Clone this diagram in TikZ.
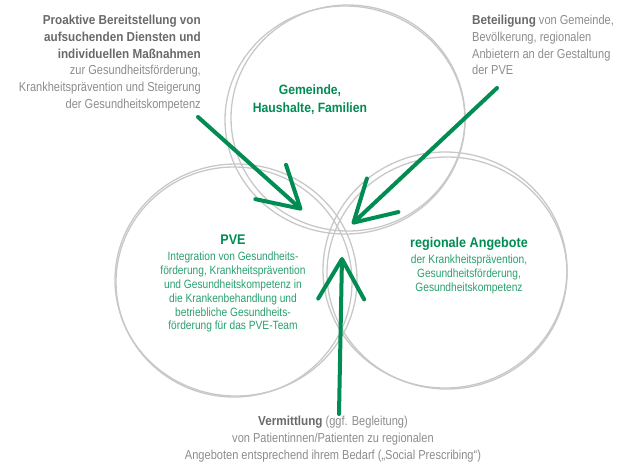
\documentclass[tikz,border=0pt]{standalone}
\usepackage{fontspec}
\setmainfont[FakeStretch=0.85,BoldFeatures={FakeStretch=0.9}]{Liberation Sans}
\usepackage{tikz}
\usetikzlibrary{arrows.meta}
\usetikzlibrary{positioning}

\definecolor{pvegreen}{RGB}{0,140,82}
\definecolor{pvelight}{RGB}{40,160,110}
\definecolor{greydark}{RGB}{105,105,105}
\definecolor{greytext}{RGB}{140,140,140}
\definecolor{greyring}{RGB}{200,200,200}

\newcommand{\hl}[1]{\textbf{\textcolor{greydark}{#1}}}

\begin{document}
\begin{tikzpicture}[x=1pt,y=-1pt,
  ring/.style={draw=greyring,line width=1.3pt},
  note/.style={text=greytext,inner sep=0pt,font=\fontsize{13}{16.7}\selectfont},
  title/.style={text=pvegreen,inner sep=0pt,align=center,text depth=3pt,font=\fontsize{14}{17.5}\selectfont\bfseries},
  body/.style={text=pvelight,inner sep=0pt,align=center,font=\fontsize{12}{13.8}\selectfont},
  pointer/.style={draw=pvegreen,line width=4pt,line cap=round,
    -{Straight Barb[length=40pt,width=46pt,round]}}]

  \useasboundingbox (0,0) rectangle (618,467);

  \coordinate (c_top)   at (345,120);
  \coordinate (c_left)  at (236,280);
  \coordinate (c_right) at (445,270);

  \draw [ring] (c_top) ellipse (120 and 114);
  \draw [ring] ([shift={(3,-2)}]c_top) ellipse (117 and 113);
  \draw [ring] (c_left) ellipse (121 and 116);
  \draw [ring] ([shift={(-2,2)}]c_left) ellipse (118 and 115);
  \draw [ring] (c_right) ellipse (122 and 118);
  \draw [ring] ([shift={(2,3)}]c_right) ellipse (120 and 116);

  \node [note,align=right,anchor=north east] (proaktiv) at (201,15)
    {\hl{Proaktive Bereitstellung von}\\ \hl{aufsuchenden Diensten und}\\
     \hl{individuellen Maßnahmen}\\ zur Gesundheitsförderung,\\
     Krankheitsprävention und Steigerung\\ der Gesundheitskompetenz};
  \node [note,align=left,anchor=north west] (beteiligung) at (472,15)
    {\hl{Beteiligung} von Gemeinde,\\ Bevölkerung, regionalen\\
     Anbietern an der Gestaltung\\ der PVE};

  \node [title,anchor=north,font=\fontsize{13.5}{17.5}\selectfont\bfseries] (gemeinde) at (310,85)
    {Gemeinde,\\ Haushalte, Familien};

  \node [title,anchor=north] (pve) at (233,235) {PVE};
  \node [body,below=4pt of pve] (pve_text)
    {Integration von Gesundheits-\\ förderung, Krankheitsprävention\\
     und Gesundheitskompetenz in\\ die Krankenbehandlung und\\
     betriebliche Gesundheits-\\ förderung für das PVE-Team};

  \node [title,anchor=north] (regional) at (469,237) {regionale Angebote};
  \node [body,below=4pt of regional] (regional_text)
    {der Krankheitsprävention,\\ Gesundheitsförderung,\\ Gesundheitskompetenz};

  \node [note,align=center,anchor=north] (vermittlung) at (333,416)
    {\hl{Vermittlung} (ggf. Begleitung)\\ von Patientinnen/Patienten zu regionalen\\
     Angeboten entsprechend ihrem Bedarf („Social Prescribing“)};

  \coordinate (src_1) at (198,117);
  \coordinate (tip_1) at (302,210);
  \coordinate (src_2) at (497,88);
  \coordinate (tip_2) at (352,224);
  \coordinate (src_3) at (339,414);
  \coordinate (tip_3) at (342,257);

  \path
    (src_1) edge [pointer] (tip_1)
    (src_2) edge [pointer] (tip_2)
    (src_3) edge [pointer] (tip_3);

\end{tikzpicture}
\end{document}
